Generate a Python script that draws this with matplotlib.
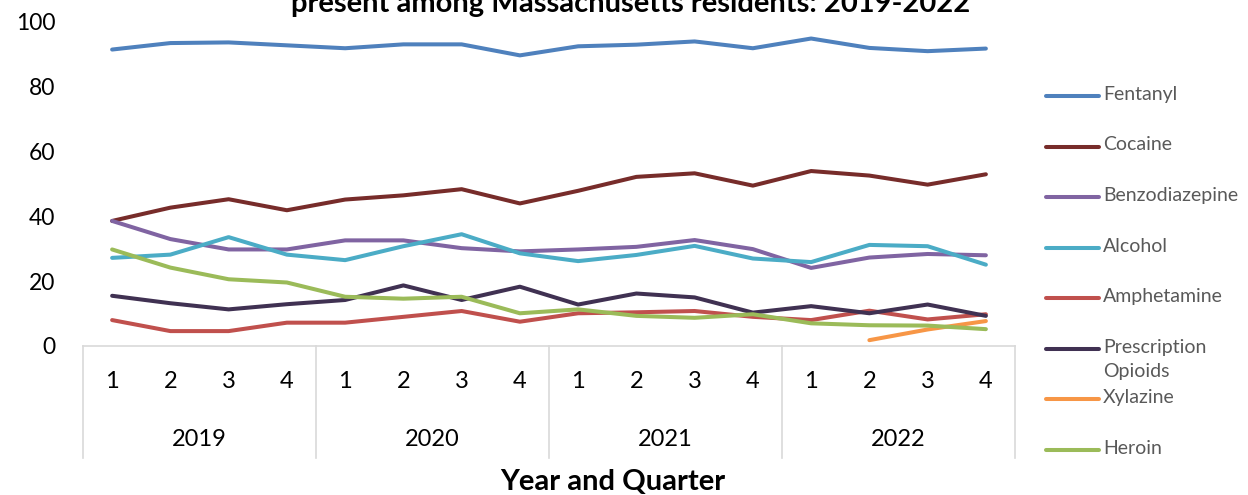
import numpy as np
import matplotlib
matplotlib.use("Agg")
import matplotlib.pyplot as plt
import matplotlib.transforms as mtransforms

plt.rcParams['font.family'] = ['Lato', 'DejaVu Sans']

# Data (percent of deaths with substance present)
years = ['2019', '2020', '2021', '2022']
quarters = ['1', '2', '3', '4']

fentanyl = [91.5, 93.5, 93.7, 92.8, 91.9, 93.1, 93.1, 89.7,
            92.5, 93.0, 94.0, 91.9, 94.9, 92.0, 91.0, 91.8]
cocaine = [38.6, 42.7, 45.3, 41.9, 45.2, 46.5, 48.4, 44.0,
           47.9, 52.2, 53.3, 49.5, 54.0, 52.6, 49.8, 53.0]
benzodiazepine = [38.6, 33.0, 29.8, 29.8, 32.6, 32.6, 30.2, 29.2,
                  29.8, 30.6, 32.7, 29.9, 24.1, 27.3, 28.4, 28.0]
alcohol = [27.2, 28.2, 33.6, 28.2, 26.5, 30.8, 34.5, 28.6,
           26.2, 28.1, 30.9, 27.0, 25.9, 31.2, 30.8, 25.1]
amphetamine = [8.0, 4.6, 4.6, 7.2, 7.2, 9.0, 10.8, 7.5,
               10.1, 10.4, 10.8, 9.0, 8.0, 10.9, 8.2, 9.8]
prescription_opioids = [15.5, 13.2, 11.3, 12.9, 14.2, 18.7, 14.2, 18.3,
                        12.8, 16.2, 15.0, 10.3, 12.3, 10.1, 12.8, 9.3]
xylazine = [np.nan] * 13 + [1.8, 5.1, 7.7]
heroin = [29.8, 24.2, 20.6, 19.6, 15.2, 14.6, 15.2, 10.1,
          11.3, 9.3, 8.7, 9.8, 7.0, 6.4, 6.3, 5.2]

series = [
    ('Fentanyl', fentanyl, '#4F81BD'),
    ('Cocaine', cocaine, '#772C2A'),
    ('Benzodiazepine', benzodiazepine, '#8064A2'),
    ('Alcohol', alcohol, '#4BACC6'),
    ('Amphetamine', amphetamine, '#C0504D'),
    ('Prescription\nOpioids', prescription_opioids, '#403152'),
    ('Xylazine', xylazine, '#F79646'),
    ('Heroin', heroin, '#9BBB59'),
]

W, H = 1248, 495
fig = plt.figure(figsize=(W / 100, H / 100), dpi=100)
ax = fig.add_axes([83 / W, 1 - 346 / H, 932 / W, 324 / H])

x = np.arange(len(years) * len(quarters))
for name, vals, color in series:
    ax.plot(x, vals, color=color, lw=2.9, solid_joinstyle='round',
            solid_capstyle='round', clip_on=False)

ax.set_xlim(-0.5, len(x) - 0.5)
ax.set_ylim(0, 100)
ax.set_yticks(range(0, 101, 20))
ax.tick_params(axis='y', length=0, labelsize=16.5, pad=20)
for s in ['top', 'right', 'left']:
    ax.spines[s].set_visible(False)
ax.spines['bottom'].set_color('#d9d9d9')
ax.spines['bottom'].set_linewidth(1.2)

# two-level category axis
ax.set_xticks(x)
ax.set_xticklabels(quarters * len(years))
ax.tick_params(axis='x', length=0, labelsize=17, pad=18)
trans = mtransforms.blended_transform_factory(ax.transData, ax.transAxes)
sep_low = -112 / 324
for i in range(len(years) + 1):
    xb = i * len(quarters) - 0.5
    ax.plot([xb, xb], [0, sep_low], color='#d9d9d9', lw=1.2,
            transform=trans, clip_on=False)
for i, yr in enumerate(years):
    xc = i * len(quarters) + (len(quarters) - 1) / 2
    ax.text(xc, -94 / 324, yr, transform=trans, ha='center', va='center',
            fontsize=17)

fig.text(613 / W, 1 - 482 / H, 'Year and Quarter', ha='center', va='center',
         fontsize=21, fontweight='bold')

fig.text(631 / W, 1 - 12 / H, 'present among Massachusetts residents: 2019-2022',
         ha='center', va='baseline', fontsize=21, fontweight='bold')

# legend drawn by hand to mimic the spreadsheet layout
for i, (name, vals, color) in enumerate(series):
    yy = 1 - (96 + i * 50.5) / H
    fig.add_artist(plt.Line2D([1046 / W, 1099 / W], [yy, yy], color=color,
                              lw=2.9, solid_capstyle='round'))
    fig.text(1103 / W, yy + 10 / H, name, ha='left', va='top', fontsize=14,
             color='#595959', linespacing=1.5)

fig.savefig('out.png', dpi=100)
